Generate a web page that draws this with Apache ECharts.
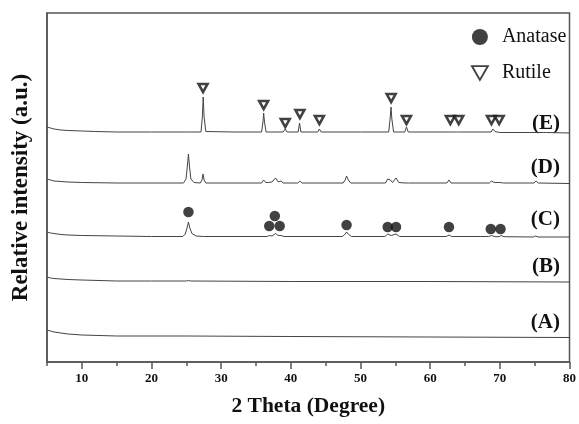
<!DOCTYPE html>
<html>
<head>
<meta charset="utf-8">
<script src="https://cdn.jsdelivr.net/npm/echarts@6/dist/echarts.min.js"></script>
<style>
html,body{margin:0;padding:0;background:#fff;}
#chart{width:579px;height:424px;}
</style>
</head>
<body>
<div id="chart"></div>
<script>
// ---- data (2-theta in degrees, relative intensity in arbitrary units, traces stacked) ----
var traceA = [[5,32],[5.5,31],[6,30],[7,29],[8,28],[10,27],[15,26],[25,26],[40,25.5],[60,25],[80,24.5]];
var traceB = [[5,85],[5.5,84],[6,83.5],[7,83],[8,82.5],[10,82],[15,81],[20,81],[25,81],[25.3,81.5],[25.6,81],[40,80.5],[60,80.5],[80,80]];
var traceC = [[5,130],[5.5,129],[6,128.5],[7,127.5],[8,127],[10,126.5],[15,126],[20,125.5],[24.5,125.5],[24.85,128],[25.1,134],[25.3,140],[25.5,134],[25.8,128.5],[26.4,126],[27.5,125.5],[36.6,125.5],[36.9,126.5],[37.3,126],[37.8,128.5],[38.2,126.5],[38.6,126.5],[39.0,125.5],[47.4,125.5],[47.75,127.5],[48.0,130],[48.3,127.5],[48.7,125.5],[53.5,125.5],[53.9,128],[54.4,126.5],[55.1,128],[55.6,125.5],[62.3,125.5],[62.7,127],[63.1,125.5],[68.4,125.5],[68.8,126.5],[69.3,125.3],[69.9,125.3],[70.2,126.5],[70.6,125.3],[74.8,125],[75.1,126],[75.5,125],[80,125]];
var traceD = [[5,183],[5.5,182],[6,181],[7,180.5],[8,180],[10,179.5],[15,179],[24.6,179],[24.95,183],[25.15,196],[25.3,208],[25.45,196],[25.65,183],[26.1,179.5],[27.0,179],[27.25,182],[27.4,188],[27.55,182],[27.8,179],[35.8,179],[36.1,182],[36.4,179.5],[36.75,179.5],[37.0,181],[37.3,180],[37.8,184],[38.2,180],[38.6,181],[38.9,179],[41.0,179],[41.3,181],[41.6,179],[47.5,179],[47.8,182],[48.0,186],[48.25,182],[48.6,179],[53.6,179],[53.9,183],[54.1,181],[54.3,182],[54.6,179.5],[55.1,184],[55.5,179.5],[56.4,179],[56.6,180],[56.9,179],[62.4,179],[62.7,182],[63.0,179],[68.5,179],[68.8,181],[69.2,179.5],[70.0,179.5],[70.2,180.5],[70.5,179],[74.9,179],[75.2,181],[75.5,179],[80,178.5]];
var traceE = [[5,235],[5.5,234],[6,233],[7,232],[8,231.5],[10,231],[12,230.5],[15,230],[20,230],[25,230],[27.1,230],[27.3,245],[27.42,265],[27.55,245],[27.8,230.5],[32,230],[35.8,230],[36.0,240],[36.1,249],[36.22,240],[36.45,230],[38.9,230],[39.2,233],[39.45,230],[41.05,230],[41.25,239],[41.45,230],[43.85,230],[44.1,233],[44.35,230],[50,230],[54.05,230],[54.25,243],[54.38,255],[54.5,243],[54.75,230],[56.35,230],[56.6,235],[56.85,230],[62.6,230],[62.8,232],[63.0,230],[63.8,230],[64.0,232],[64.2,230],[68.75,230],[69.0,233],[69.3,230.5],[69.6,230],[69.8,232],[70.05,229.5],[76.3,229.5],[76.5,231],[76.7,229.5],[80,229]];
var anataseMarks = [[25.3,150],[37.7,146],[36.9,136],[38.4,136],[48.0,137],[53.9,135],[55.1,135],[62.7,135],[68.7,133],[70.1,133]];
var rutileMarks = [[27.4,274],[36.1,257],[39.2,239],[41.3,248],[44.1,242],[54.4,264],[56.6,242],[62.9,242],[64.1,242],[68.8,242],[69.9,242]];
var sampleNames = ['(A)','(B)','(C)','(D)','(E)'];
var majorTicks = [10,20,30,40,50,60,70,80];
var minorTicks = [5,15,25,35,45,55,65,75];
var phaseNames = ['Anatase','Rutile'];
var xTitle = '2 Theta (Degree)';
var yTitle = 'Relative intensity (a.u.)';

// ---- chart ----
var FONT = '"Liberation Serif", "Times New Roman", serif';
var AXC = '#555';
var triPath = 'path://M0,0 L10,0 L5,8.7 Z';
var chart = echarts.init(document.getElementById('chart'), null, {renderer:'canvas'});

function lineSeries(name, data){
  return {name:name, type:'line', data:data, showSymbol:false, symbol:'none',
    lineStyle:{color:'#444', width:1}, silent:true, z:2, xAxisIndex:0};
}
var labelY = [323, 267, 220, 168, 124];
var graphics = sampleNames.map(function(s,i){
  return {type:'text', right:19, top:labelY[i]-11,
    style:{text:s, font:'bold 21px '+FONT, fill:'#111'}};
});

chart.setOption({
  animation:false,
  backgroundColor:'#fff',
  grid:{left:47, right:7, top:13, bottom:62, show:true, borderColor:AXC, borderWidth:1.5, backgroundColor:'transparent'},
  legend:{
    orient:'vertical', left:466, top:20, itemGap:12, itemWidth:16, itemHeight:16,
    textStyle:{fontFamily:FONT, fontSize:20, lineHeight:24, color:'#111', padding:[0,0,0,9]},
    data:[
      {name:phaseNames[0], icon:'circle', itemStyle:{color:'#111', borderWidth:0}},
      {name:phaseNames[1], icon:triPath, itemStyle:{color:'#fff', borderColor:'#111', borderWidth:1.8}}
    ]
  },
  xAxis:[{
    type:'value', min:5, max:80, position:'bottom',
    name:xTitle, nameLocation:'middle', nameGap:33,
    nameTextStyle:{fontFamily:FONT, fontSize:21.5, fontWeight:'bold', color:'#111'},
    axisLine:{lineStyle:{color:AXC, width:1.5}},
    axisTick:{show:true, customValues:majorTicks, length:7, lineStyle:{color:AXC, width:1.5}},
    axisLabel:{customValues:majorTicks, fontFamily:FONT, fontSize:13, fontWeight:'bold', color:'#111', margin:10},
    splitLine:{show:false}
  },{
    type:'value', min:5, max:80, position:'bottom', offset:0,
    axisLine:{show:false},
    axisTick:{show:true, customValues:minorTicks, length:4, lineStyle:{color:AXC, width:1.5}},
    axisLabel:{show:false}, splitLine:{show:false}
  }],
  yAxis:{
    type:'value', min:0, max:349,
    name:yTitle, nameLocation:'middle', nameGap:14, nameRotate:90,
    nameTextStyle:{fontFamily:FONT, fontSize:23, fontWeight:'bold', color:'#111'},
    axisLine:{show:true, lineStyle:{color:AXC, width:1.5}},
    axisTick:{show:false}, axisLabel:{show:false}, splitLine:{show:false}
  },
  series:[
    lineSeries('A', traceA), lineSeries('B', traceB), lineSeries('C', traceC),
    lineSeries('D', traceD), lineSeries('E', traceE),
    {name:phaseNames[0], type:'scatter', data:anataseMarks, symbol:'circle', symbolSize:10.5,
      itemStyle:{color:'#111'}, z:5},
    {name:phaseNames[1], type:'scatter', data:rutileMarks, symbol:triPath, symbolSize:[9,8],
      itemStyle:{color:'#fff', borderColor:'#111', borderWidth:2.5}, z:5}
  ],
  graphic:graphics
});
</script>
</body>
</html>
